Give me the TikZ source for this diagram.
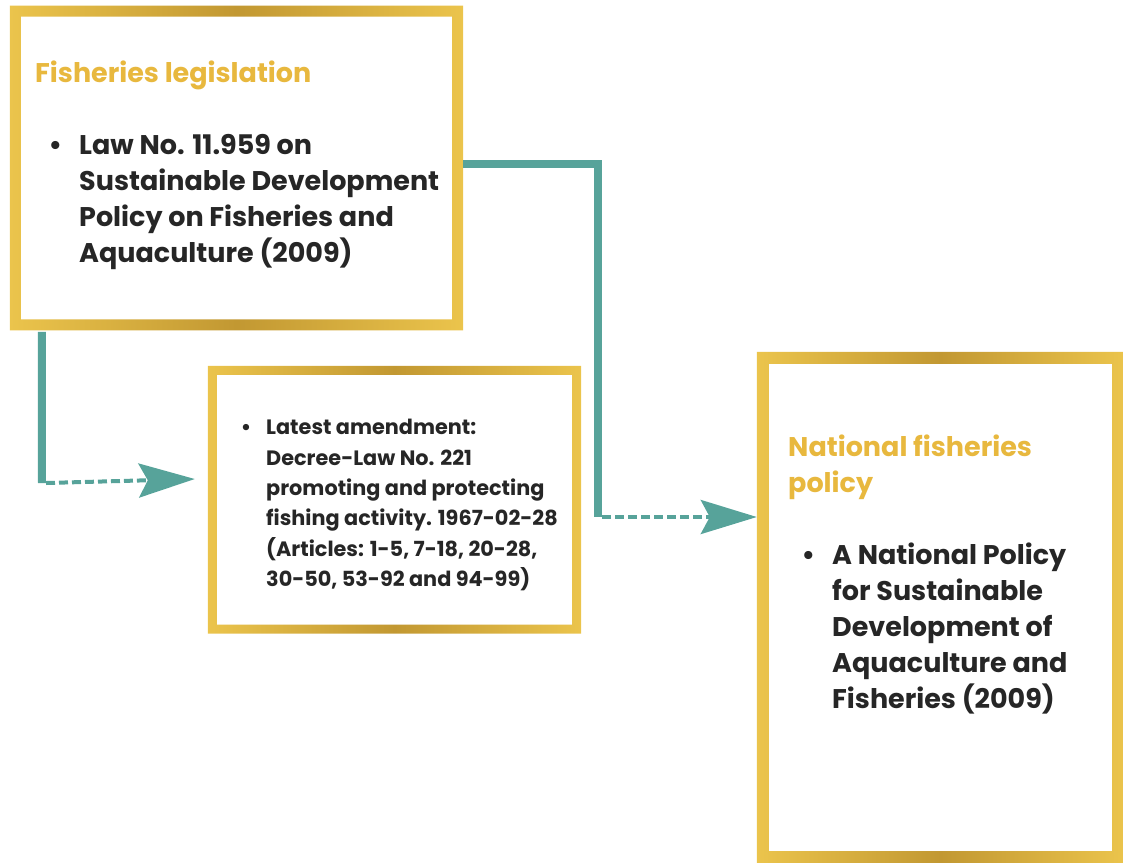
\documentclass[tikz,border=0pt]{standalone}
\usepackage{fontspec}
\setmainfont{Poppins}
\usetikzlibrary{calc,arrows.meta}

\definecolor{goldlite}{HTML}{EBC44C}
\definecolor{golddeep}{HTML}{C29832}
\definecolor{headgold}{HTML}{E8B83E}
\definecolor{inkgrey}{HTML}{262626}
\definecolor{tealline}{HTML}{57A39A}

% ring of gold foil around a box node, #2 is half the border
\newcommand{\goldframe}[2]{%
  \shade[even odd rule, left color=goldlite, right color=goldlite, middle color=golddeep]
    ($(#1.north west)+(-#2,#2)$) rectangle ($(#1.south east)+(#2,-#2)$)
    ($(#1.north west)+(#2,-#2)$) rectangle ($(#1.south east)+(-#2,#2)$);}

\begin{document}
\begin{tikzpicture}[x=1pt,y=-1pt]

  \path[use as bounding box] (0,0) rectangle (1123,862);

  \tikzstyle{boxnode}=[rectangle,inner sep=0pt,fill=white]
  \tikzstyle{headtext}=[anchor=north west,inner sep=0pt,align=left,text=headgold,font=\bfseries\fontsize{27}{36}\selectfont]
  \tikzstyle{bodytext}=[anchor=north west,inner sep=0pt,align=left,text=inkgrey,font=\bfseries\fontsize{27}{36}\selectfont]
  \tikzstyle{smalltext}=[bodytext,font=\bfseries\fontsize{20.8}{30.4}\selectfont]

  \tikzstyle{bar}=[draw=tealline,line width=8pt]
  \tikzstyle{pointer}=[draw=tealline,line width=4pt,dash pattern=on 9pt off 4pt,
    -{Stealth[length=56pt,width=34pt,inset=9pt,fill=tealline]}]

  % boxes
  \node[boxnode,minimum width=442pt,minimum height=313.5pt] (legis)  at (236.5,168) {};
  \node[boxnode,minimum width=364pt,minimum height=258.5pt] (decree) at (394.5,499.75) {};
  \node[boxnode,minimum width=355pt,minimum height=499pt]   (policy) at (940.5,607.5) {};

  \goldframe{legis}{5.5pt}
  \goldframe{decree}{4.5pt}
  \goldframe{policy}{6pt}

  % texts
  \node[headtext] (legishead) at (35,61) {Fisheries legislation};
  \node[bodytext] (legisbody) at (79,134) {\llap{\textbullet\hspace{17pt}}Law No. 11.959 on\\
    Sustainable Development\\ Policy on Fisheries and\\ Aquaculture (2009)};

  \node[smalltext] (decreebody) at (266,419) {\llap{\textbullet\hspace{15pt}}Latest amendment:\\
    Decree-Law No. 221\\ promoting and protecting\\ fishing activity. 1967-02-28\\
    (Articles: 1-5, 7-18, 20-28,\\ 30-50, 53-92 and 94-99)};

  \node[headtext] (policyhead) at (788,435) {National fisheries\\ policy};
  \node[bodytext] (policybody) at (832,543) {\llap{\textbullet\hspace{17pt}}A National Policy\\
    for Sustainable\\ Development of\\ Aquaculture and\\ Fisheries (2009)};

  % corners of the connectors
  \coordinate (legisfoot) at ($(legis.south west)+(26.5pt,-7pt)$);
  \coordinate (turnA)     at (42,483);
  \coordinate (tipA)      at ($(decree.west)+(-17.5pt,20.75pt)$);
  \coordinate (legisside) at ($(legis.east)+(5.5pt,4pt)$);
  \coordinate (turnB)     at (598,164);
  \coordinate (tipB)      at ($(policy.west)+(-6pt,90.5pt)$);

  % pointers
  \draw[bar] (legisfoot) -- (turnA);
  \draw[pointer] (turnA -| 46,0) -- (tipA);
  \draw[bar] (legisside) -- (turnB) -- (turnB |- tipB);
  \draw[pointer] (tipB -| 602,0) -- (tipB);

\end{tikzpicture}
\end{document}
